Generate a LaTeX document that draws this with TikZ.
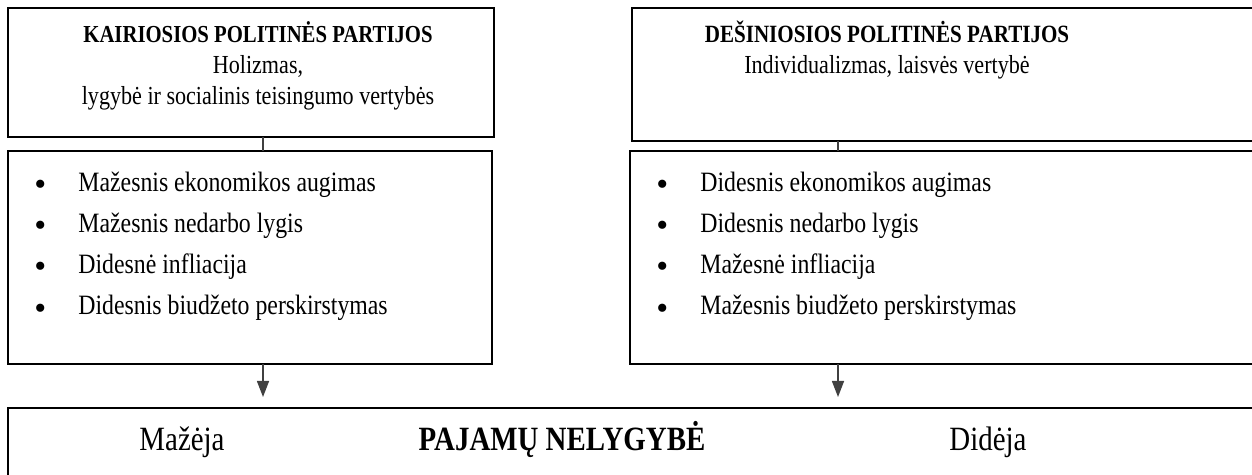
\documentclass[tikz,border=0pt]{standalone}
\usepackage{fontspec}
\setmainfont{Liberation Serif}[FakeStretch=0.85]
\newfontfamily\dotfont{Liberation Serif}
\usetikzlibrary{positioning,calc,arrows.meta}

\newcommand{\dotmark}{\makebox[22pt][l]{\raisebox{-2pt}{\dotfont\fontsize{17}{17}\selectfont\textbullet}}}

\tikzset{
  topbox/.style={draw, line width=1.1pt, inner sep=0pt, outer sep=0pt, anchor=north west},
  listbox/.style={draw, line width=0.9pt, inner sep=0pt, outer sep=0pt, anchor=north west},
  resbox/.style={draw, line width=1.3pt, inner sep=0pt, outer sep=0pt, anchor=north west},
  head/.style={align=center, inner sep=0pt, anchor=base, font=\fontsize{13}{15.5}\selectfont},
  item/.style={inner sep=0pt, anchor=base west, font=\fontsize{14}{16}\selectfont},
  res/.style={inner sep=0pt, anchor=base, font=\fontsize{17}{19}\selectfont},
  conn/.style={draw=black!75, line width=0.7pt},
  arr/.style={conn, -{Triangle[width=6pt,length=8pt]}},
}

\begin{document}
\begin{tikzpicture}[x=0.5pt,y=-0.5pt]
	\useasboundingbox (0,0) rectangle (1252,475);
	% boxes
	\node[topbox, minimum width=243pt, minimum height=64.5pt] (tl) at (8,8) {};
	\node[topbox, minimum width=313pt, minimum height=66.5pt] (tr) at (632,8) {};
	\node[listbox, minimum width=242pt, minimum height=106.5pt] (ml) at (8,151) {};
	\node[listbox, minimum width=314pt, minimum height=106.5pt] (mr) at (630,151) {};
	\node[resbox, minimum width=625pt, minimum height=40pt] (res) at (8,408) {};
	% titles (base = last line)
	\node[head] (tlt) at (258,105) {{\fontsize{12.2}{15.5}\selectfont\textbf{KAIRIOSIOS POLITINĖS PARTIJOS}}\\Holizmas,\\lygybė ir socialinis teisingumo vertybės};
	\node[head] (trt) at (887,74) {{\fontsize{12.4}{15.5}\selectfont\textbf{DEŠINIOSIOS POLITINĖS PARTIJOS}}\\Individualizmas, laisvės vertybė};
	% lists
	\foreach \txt [count=\i from 0] in {Mažesnis ekonomikos augimas, Mažesnis nedarbo lygis, Didesnė infliacija, Didesnis biudžeto perskirstymas}
		\node[item] (ml\i) at ($(ml.north west)+(26,41+41*\i)$) {\dotmark\txt};
	\foreach \txt [count=\i from 0] in {Didesnis ekonomikos augimas, Didesnis nedarbo lygis, Mažesnė infliacija, Mažesnis biudžeto perskirstymas}
		\node[item] (mr\i) at ($(mr.north west)+(26,41+41*\i)$) {\dotmark\txt};
	% connectors
	\coordinate (lx) at (263,0);
	\coordinate (rx) at (838,0);
	\draw[conn] (tl.south -| lx) -- (ml.north -| lx);
	\draw[conn] (tr.south -| rx) -- (mr.north -| rx);
	\draw[arr, shorten >=5.5pt] (ml.south -| lx) -- (res.north -| lx);
	\draw[arr, shorten >=5.5pt] (mr.south -| rx) -- (res.north -| rx);
	% result
	\node[res] (down) at (182,450) {Mažėja};
	\node[res] (ineq) at (562,450) {\textbf{PAJAMŲ NELYGYBĖ}};
	\node[res] (up) at (988,450) {Didėja};
\end{tikzpicture}
\end{document}
